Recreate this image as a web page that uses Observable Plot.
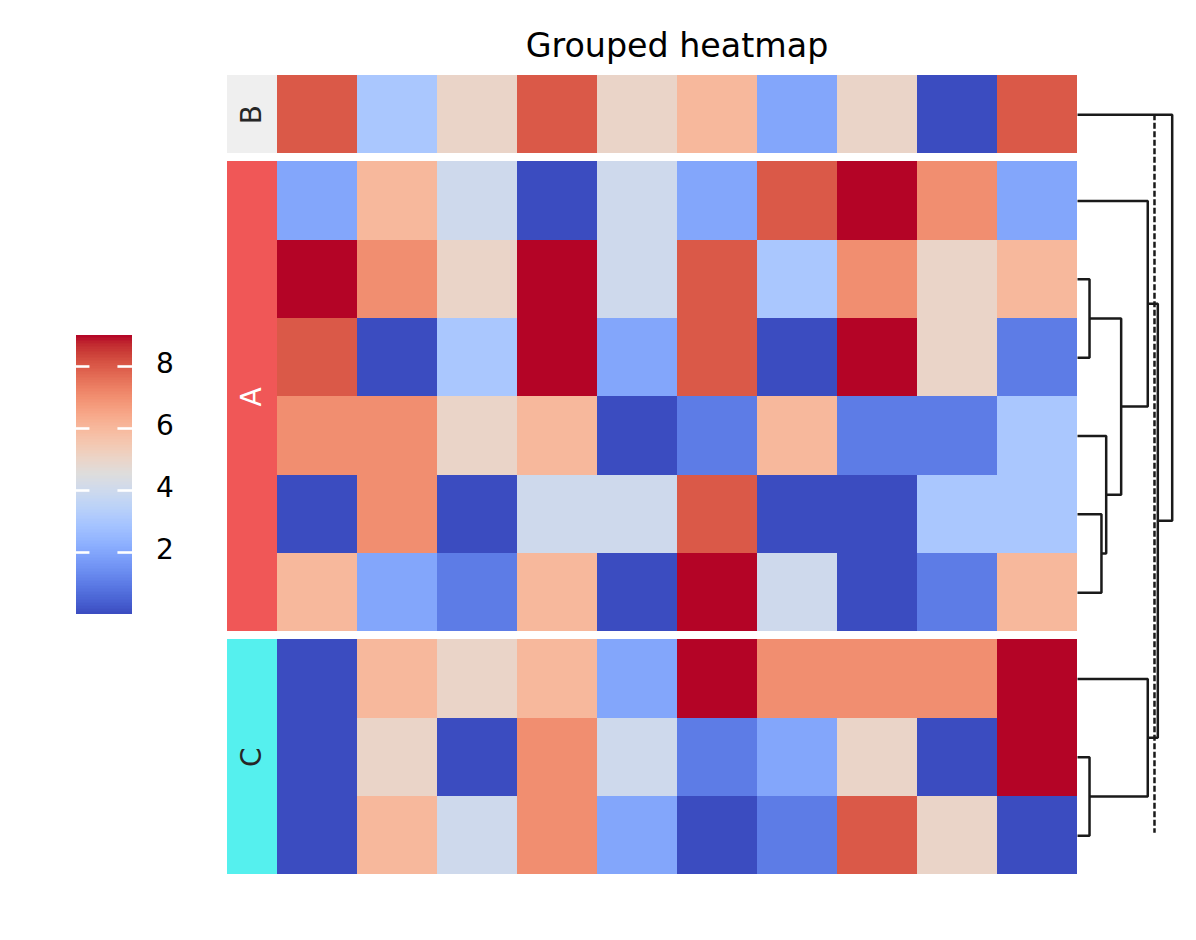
<!DOCTYPE html>
<html>
<head>
<meta charset="utf-8">
<script src="https://cdn.jsdelivr.net/npm/d3@7"></script>
<script src="https://cdn.jsdelivr.net/npm/@observablehq/plot@0.6"></script>
<style>
  html, body { margin: 0; padding: 0; background: #fff; }
  #wrap { position: relative; width: 1196px; height: 940px; overflow: hidden; font-family: "DejaVu Sans", sans-serif; background: #fff; }
  #wrap svg { position: absolute; left: 0; top: 0; }
  #title { position: absolute; left: 677px; top: 29px; transform: translateX(-50%); white-space: nowrap;
           font-size: 33.3px; line-height: 1; color: #000; font-family: "DejaVu Sans", sans-serif; }
</style>
</head>
<body>
<div id="wrap"><div id="title">Grouped heatmap</div></div>
<script>
// ---------------- data ----------------
const columns = ["c1", "c2", "c3", "c4", "c5", "c6", "c7", "c8", "c9", "c10"];
const rowNames = ["B1", "A1", "A2", "A3", "A4", "A5", "A6", "C1", "C2", "C3"];
const rowGroup = ["B", "A", "A", "A", "A", "A", "A", "C", "C", "C"];
const groupNames = ["B", "A", "C"];
const groupColors = ["#EFEFEF", "#F05757", "#55F0EE"];
const groupTextColors = ["#262626", "#FFFFFF", "#262626"];

const rowB1 = [8, 3, 5, 8, 5, 6, 2, 5, 0, 8];
const rowA1 = [2, 6, 4, 0, 4, 2, 8, 9, 7, 2];
const rowA2 = [9, 7, 5, 9, 4, 8, 3, 7, 5, 6];
const rowA3 = [8, 0, 3, 9, 2, 8, 0, 9, 5, 1];
const rowA4 = [7, 7, 5, 6, 0, 1, 6, 1, 1, 3];
const rowA5 = [0, 7, 0, 4, 4, 8, 0, 0, 3, 3];
const rowA6 = [6, 2, 1, 6, 0, 9, 4, 0, 1, 6];
const rowC1 = [0, 6, 5, 6, 2, 9, 7, 7, 7, 9];
const rowC2 = [0, 5, 0, 7, 4, 1, 2, 5, 0, 9];
const rowC3 = [0, 6, 4, 7, 2, 0, 1, 8, 5, 0];
const valueRows = [rowB1, rowA1, rowA2, rowA3, rowA4, rowA5, rowA6, rowC1, rowC2, rowC3];

const colorDomain = [0, 9];
const colorTicks = [2, 4, 6, 8];

// dendrogram linkage (leaves 0-9 in display order, merges numbered from 10)
const linkA = [2, 8, 5, 4, 10, 1, 7, 15, 0];
const linkB = [3, 9, 6, 12, 13, 14, 11, 16, 17];
const linkHeight = [1.27, 1.27, 2.53, 3.03, 4.61, 7.42, 7.42, 8.48, 10.0];
const cutHeight = 8.13;

// matplotlib "coolwarm" samples
const coolwarm = [
  "rgb(59,76,192)", "rgb(68,90,204)", "rgb(77,104,215)", "rgb(87,117,225)", "rgb(98,130,234)",
  "rgb(108,142,241)", "rgb(119,154,247)", "rgb(130,165,251)", "rgb(141,176,254)", "rgb(152,185,255)",
  "rgb(163,194,255)", "rgb(174,201,253)", "rgb(184,208,249)", "rgb(194,213,244)", "rgb(204,217,238)",
  "rgb(213,219,230)", "rgb(221,221,221)", "rgb(229,216,209)", "rgb(236,211,197)", "rgb(241,204,184)",
  "rgb(245,196,172)", "rgb(247,187,160)", "rgb(247,177,148)", "rgb(247,166,136)", "rgb(244,154,123)",
  "rgb(241,141,111)", "rgb(236,127,99)", "rgb(229,112,88)", "rgb(222,96,77)", "rgb(213,80,66)",
  "rgb(203,62,56)", "rgb(192,40,47)", "rgb(180,4,38)"
];

// ---------------- layout helpers ----------------
const W = 1196, H = 940;
const GAP = 0.102;                 // gap between groups, in row units
const ANNOT = 0.625;               // width of group annotation column, in column units
const M = {top: 75, bottom: 65.7};
const LABEL_SIZE = 28;

const rowTop = rowNames.map((r, i) => i + groupNames.indexOf(rowGroup[i]) * GAP);
const yMax = rowNames.length + (groupNames.length - 1) * GAP;

const cells = [];
valueRows.forEach((vals, i) => vals.forEach((v, j) => cells.push({
  row: rowNames[i], col: columns[j], value: v,
  x1: j, x2: j + 1, y1: rowTop[i], y2: rowTop[i] + 1
})));

const groupBoxes = groupNames.map((g, k) => {
  const tops = rowTop.filter((t, i) => rowGroup[i] === g);
  return {name: g, color: groupColors[k], textColor: groupTextColors[k],
          x1: -ANNOT, x2: 0, xm: -ANNOT / 2,
          y1: d3.min(tops), y2: d3.max(tops) + 1, ym: (d3.min(tops) + d3.max(tops) + 1) / 2};
});

const colorScale = {type: "linear", domain: colorDomain, interpolate: d3.piecewise(d3.interpolateRgb, coolwarm)};
const font = {background: "none", fontFamily: "DejaVu Sans", fontSize: LABEL_SIZE + "px", color: "#000", overflow: "visible"};

// ---------------- heatmap ----------------
const main = Plot.plot({
  width: W, height: H,
  marginLeft: 227, marginRight: 119, marginTop: M.top, marginBottom: M.bottom,
  x: {domain: [-ANNOT, columns.length], axis: null},
  y: {domain: [0, yMax], reverse: true, axis: null},
  color: colorScale,
  style: font,
  marks: [
    Plot.rect(cells, {x1: "x1", x2: "x2", y1: "y1", y2: "y2", fill: "value", shapeRendering: "crispEdges"}),
    ...groupBoxes.map(g => Plot.rect([g], {x1: "x1", x2: "x2", y1: "y1", y2: "y2", fill: g.color, shapeRendering: "crispEdges"})),
    ...groupBoxes.map(g => Plot.text([g], {x: "xm", y: "ym", text: "name", rotate: -90, fill: g.textColor, fontSize: LABEL_SIZE}))
  ]
});
document.getElementById("wrap").appendChild(main);

// ---------------- dendrogram ----------------
const nodeY = rowTop.map(t => t + 0.5);
const nodeH = rowNames.map(() => 0);
const dendro = [];
linkA.forEach((a, k) => {
  const b = linkB[k], h = linkHeight[k], id = rowNames.length + k;
  nodeY[id] = (nodeY[a] + nodeY[b]) / 2;
  nodeH[id] = h;
  dendro.push({id, x: nodeH[a], y: nodeY[a]}, {id, x: h, y: nodeY[a]},
              {id, x: h, y: nodeY[b]}, {id, x: nodeH[b], y: nodeY[b]});
});
const leafYs = rowNames.map((r, i) => nodeY[i]);

const dend = Plot.plot({
  width: W, height: H,
  marginLeft: 1077, marginRight: 24.3, marginTop: M.top, marginBottom: M.bottom,
  x: {domain: [0, d3.max(linkHeight)], axis: null},
  y: {domain: [0, yMax], reverse: true, axis: null},
  style: font,
  marks: [
    Plot.line(dendro, {x: "x", y: "y", z: "id", stroke: "#1a1a1a", strokeWidth: 2.5, strokeLinejoin: "miter", strokeLinecap: "butt"}),
    Plot.ruleX([cutHeight], {y1: d3.min(leafYs), y2: d3.max(leafYs) - 0.03, stroke: "#1a1a1a", strokeWidth: 2.5, strokeDasharray: "6,2.5"})
  ]
});
document.getElementById("wrap").appendChild(dend);

// ---------------- colorbar ----------------
const slices = d3.range(colorDomain[0], colorDomain[1], 0.05).map(v => ({v: v + 0.025, y1: v, y2: Math.min(v + 0.05, colorDomain[1])}));
const cbar = Plot.plot({
  width: W, height: H,
  marginLeft: 76, marginRight: W - 132, marginTop: 335, marginBottom: H - 614,
  x: {domain: [0, 1], axis: null},
  y: {domain: colorDomain, axis: null},
  color: colorScale,
  style: font,
  marks: [
    Plot.rect(slices, {x1: 0, x2: 1, y1: "y1", y2: "y2", fill: "v", shapeRendering: "crispEdges"}),
    Plot.ruleY(colorTicks, {x1: 0, x2: 0.24, stroke: "white", strokeWidth: 2.6}),
    Plot.ruleY(colorTicks, {x1: 0.74, x2: 1, stroke: "white", strokeWidth: 2.6}),
    Plot.text(colorTicks, {x: 1, y: d => d, text: d => String(d), textAnchor: "start", dx: 23.5, dy: -2, fill: "#000", fontSize: LABEL_SIZE})
  ]
});
document.getElementById("wrap").appendChild(cbar);
</script>
</body>
</html>
